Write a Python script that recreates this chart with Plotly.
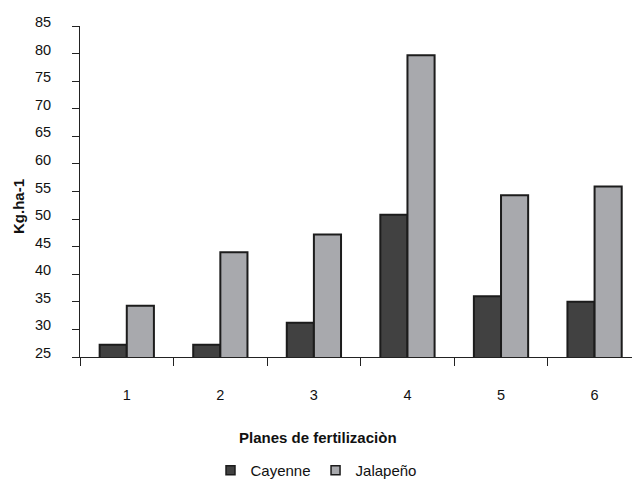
import plotly.graph_objects as go

# Fertilization plans and yields (kg/ha) per chili variety
planes = ["1", "2", "3", "4", "5", "6"]
cayenne = [27.2, 27.2, 31.2, 50.8, 36.0, 35.0]
jalapeno = [34.3, 44.0, 47.2, 79.7, 54.3, 55.9]
y_ticks = [25, 30, 35, 40, 45, 50, 55, 60, 65, 70, 75, 80, 85]

DARK = "#414141"
LIGHT = "#a8a9ad"
EDGE = "#1c1c1c"
FONT = "Liberation Sans, Arial, sans-serif"

fig = go.Figure()

fig.add_trace(go.Bar(
    x=planes, y=cayenne, name="Cayenne", showlegend=False,
    marker=dict(color=DARK, line=dict(color=EDGE, width=2)),
))
fig.add_trace(go.Bar(
    x=planes, y=jalapeno, name="Jalapeño", showlegend=False,
    marker=dict(color=LIGHT, line=dict(color=EDGE, width=2)),
))

# small square legend keys
for name, col in [("Cayenne", DARK), ("Jalapeño", LIGHT)]:
    fig.add_trace(go.Scatter(
        x=[None], y=[None], mode="markers", name=name,
        marker=dict(symbol="square", size=9, color=col,
                    line=dict(color=EDGE, width=1.5)),
    ))

fig.update_layout(
    width=632, height=483,
    margin=dict(l=80, r=0, t=26, b=126),
    paper_bgcolor="white", plot_bgcolor="white",
    font=dict(family=FONT, size=14.5, color="#111111"),
    barmode="group", bargap=0.42, bargroupgap=0,
    showlegend=True,
    legend=dict(
        orientation="h", xref="container", yref="container",
        x=0.5, y=0.026, xanchor="center", yanchor="middle",
        font=dict(size=15), itemwidth=30, tracegroupgap=0,
    ),
    annotations=[
        dict(text="<b>Planes de fertilizaciòn</b>", xref="paper", yref="paper",
             x=(318 - 80) / 552, y=(357 - 437) / 331,
             showarrow=False, xanchor="center", yanchor="middle",
             font=dict(size=15)),
        dict(text="<b>Kg.ha-1</b>", xref="paper", yref="paper",
             x=(18 - 80) / 552, y=(357 - 207) / 331, textangle=-90,
             showarrow=False, xanchor="center", yanchor="middle",
             font=dict(size=15)),
    ],
)

fig.update_xaxes(
    type="category", range=[-0.5, 5.4],
    showline=True, linecolor="#222222", linewidth=1,
    ticks="outside", tickson="boundaries", ticklen=8, tickcolor="#222222",
    showgrid=False, zeroline=False, ticklabelstandoff=25,
)
fig.update_yaxes(
    range=[25, 85], tickvals=y_ticks,
    showline=True, linecolor="#222222", linewidth=1,
    ticks="outside", ticklen=7, tickcolor="#222222",
    showgrid=False, zeroline=False, ticklabelstandoff=18, ticklabelshift=-4,
)

fig.write_html("out.html")
